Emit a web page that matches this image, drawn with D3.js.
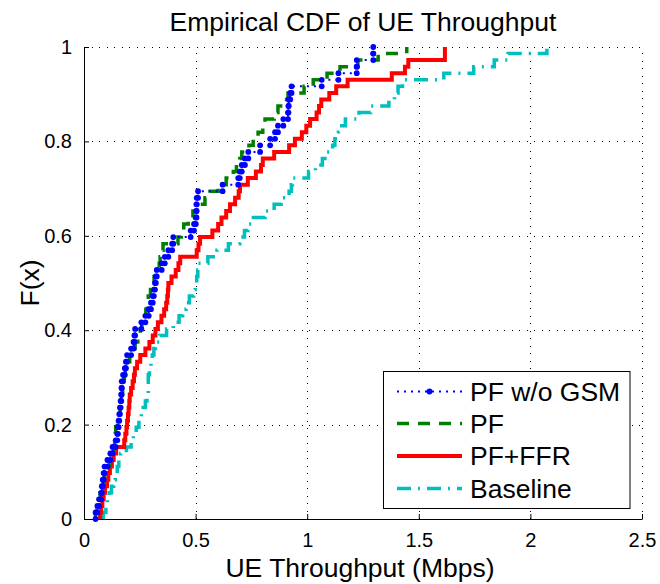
<!DOCTYPE html>
<html>
<head>
<meta charset="utf-8">
<script src="https://cdn.jsdelivr.net/npm/d3@7"></script>
<style>
  html, body { margin: 0; padding: 0; background: #fff; }
  svg { display: block; font-family: "Liberation Sans", Arial, Helvetica, sans-serif; }
</style>
</head>
<body>
<svg id="chart" width="660" height="584"></svg>
<script>
// ---- Data: UE throughput samples (Mbps), 72 UEs per scheme ----
const seriesNames = ["PF w/o GSM", "PF", "PF+FFR", "Baseline"];

const pfWoGsm = [0.052,0.060,0.068,0.077,0.080,0.084,0.088,0.092,0.105,0.118,0.128,0.142,
  0.149,0.152,0.155,0.158,0.161,0.164,0.167,0.168,0.169,0.175,0.183,0.188,
  0.193,0.211,0.222,0.226,0.229,0.257,0.275,0.290,0.300,0.308,0.313,0.318,
  0.322,0.326,0.348,0.362,0.378,0.395,0.400,0.478,0.493,0.501,0.504,0.504,
  0.505,0.511,0.621,0.691,0.698,0.707,0.721,0.736,0.789,0.834,0.856,0.869,
  0.893,0.914,0.916,0.917,0.924,0.930,1.065,1.140,1.222,1.222,1.296,1.296];

const pf = [0.051,0.058,0.064,0.072,0.082,0.087,0.092,0.098,0.113,0.125,0.133,0.137,
  0.140,0.142,0.149,0.156,0.162,0.164,0.168,0.173,0.177,0.181,0.185,0.191,
  0.205,0.218,0.229,0.241,0.252,0.259,0.269,0.277,0.283,0.288,0.298,0.308,
  0.314,0.327,0.337,0.341,0.347,0.354,0.421,0.436,0.447,0.467,0.488,0.513,
  0.542,0.565,0.601,0.637,0.669,0.683,0.698,0.707,0.739,0.758,0.780,0.801,
  0.811,0.852,0.869,0.893,0.914,0.986,1.027,1.089,1.147,1.227,1.318,1.446];

const pfFfr = [0.072,0.077,0.082,0.088,0.094,0.103,0.109,0.116,0.125,0.133,0.144,0.180,
  0.185,0.190,0.193,0.197,0.200,0.203,0.205,0.211,0.218,0.224,0.228,0.238,
  0.252,0.275,0.293,0.308,0.320,0.331,0.347,0.359,0.368,0.373,0.376,0.378,
  0.392,0.411,0.423,0.431,0.505,0.513,0.520,0.575,0.601,0.616,0.637,0.654,
  0.677,0.693,0.699,0.734,0.770,0.793,0.801,0.852,0.919,0.945,0.976,0.996,
  1.013,1.042,1.053,1.063,1.099,1.130,1.181,1.379,1.438,1.453,1.617,1.617];

const baseline = [0.086,0.098,0.105,0.113,0.123,0.133,0.140,0.149,0.156,0.164,0.190,0.211,
  0.221,0.234,0.246,0.257,0.265,0.275,0.282,0.288,0.288,0.288,0.293,0.300,
  0.306,0.313,0.320,0.339,0.370,0.400,0.426,0.442,0.457,0.472,0.491,0.498,
  0.505,0.510,0.513,0.555,0.596,0.647,0.698,0.719,0.734,0.750,0.811,0.852,
  0.883,0.919,0.929,0.934,1.006,1.037,1.068,1.089,1.114,1.124,1.140,1.155,
  1.171,1.232,1.284,1.366,1.391,1.407,1.427,1.612,1.746,1.838,1.900,2.074];

const xTicks = [0, 0.5, 1, 1.5, 2, 2.5];
const yTicks = [0, 0.2, 0.4, 0.6, 0.8, 1];
const xTickLabels = ["0", "0.5", "1", "1.5", "2", "2.5"];
const yTickLabels = ["0", "0.2", "0.4", "0.6", "0.8", "1"];

const titleText = "Empirical CDF of UE Throughput";
const xLabelText = "UE Throughput (Mbps)";
const yLabelText = "F(x)";

// ---- Layout ----
const W = 660, H = 584;
const m = { left: 84, right: 18, top: 47, bottom: 65 };
const svg = d3.select("#chart");
const x = d3.scaleLinear().domain([0, 2.5]).range([m.left, W - m.right]);
const y = d3.scaleLinear().domain([0, 1]).range([H - m.bottom, m.top]);

// grid
const grid = svg.append("g").attr("stroke", "#000").attr("stroke-width", 1)
  .attr("stroke-dasharray", "1,6.5").attr("shape-rendering", "crispEdges");
xTicks.filter(d => d > 0).forEach(d => {
  grid.append("line").attr("x1", Math.round(x(d)) + 0.5).attr("x2", Math.round(x(d)) + 0.5)
    .attr("y1", y(0)).attr("y2", y(1));
});
yTicks.filter(d => d > 0).forEach(d => {
  grid.append("line").attr("y1", Math.round(y(d)) + 0.5).attr("y2", Math.round(y(d)) + 0.5)
    .attr("x1", x(0)).attr("x2", x(2.5));
});

// axes (ticks inward)
const xAxis = d3.axisBottom(x).tickValues(xTicks).tickFormat((d, i) => xTickLabels[i])
  .tickSizeInner(-5).tickSizeOuter(0).tickPadding(14);
const yAxis = d3.axisLeft(y).tickValues(yTicks).tickFormat((d, i) => yTickLabels[i])
  .tickSizeInner(-5).tickSizeOuter(0).tickPadding(12);

const gx = svg.append("g").attr("transform", `translate(0,${y(0)})`).call(xAxis);
const gy = svg.append("g").attr("transform", `translate(${x(0)},0)`).call(yAxis);
[gx, gy].forEach(g => {
  g.selectAll("text").attr("font-size", 20).attr("fill", "#000")
    .attr("font-family", "Liberation Sans, Arial, sans-serif");
  g.selectAll("line").attr("stroke", "#000");
  g.select(".domain").attr("stroke", "#000");
});

// ECDF step paths
function ecdfPoints(samples) {
  const s = samples.slice().sort((a, b) => a - b);
  const n = s.length;
  const pts = [];
  s.forEach((v, i) => {
    pts.push([v, i / n]);
    pts.push([v, (i + 1) / n]);
  });
  return pts;
}
const line = d3.line().x(d => x(d[0])).y(d => y(d[1]));

const styles = [
  { data: pfWoGsm, color: "#0000ff", width: 2, dash: "2,5", marker: true },
  { data: pf, color: "#008000", width: 3.5, dash: "12,9", marker: false },
  { data: pfFfr, color: "#ff0000", width: 4, dash: null, marker: false },
  { data: baseline, color: "#00bfbf", width: 3.5, dash: "14,7,2,7", marker: false }
];

const plot = svg.append("g");
// draw order: baseline, PF+FFR, PF, PF w/o GSM (blue on top)
[3, 2, 1, 0].forEach(i => {
  const st = styles[i];
  const pts = ecdfPoints(st.data);
  plot.append("path").attr("d", line(pts)).attr("fill", "none")
    .attr("stroke", st.color).attr("stroke-width", st.width)
    .attr("stroke-dasharray", st.dash).attr("stroke-linejoin", "miter");
  if (st.marker) {
    plot.append("g").selectAll("circle").data(pts).join("circle")
      .attr("cx", d => x(d[0])).attr("cy", d => y(d[1])).attr("r", 2.9)
      .attr("fill", st.color);
  }
});

// title & labels
const bigFont = 26.5;
svg.append("text").attr("x", (x(0) + x(2.5)) / 2).attr("y", 31).attr("text-anchor", "middle")
  .attr("font-size", bigFont).text(titleText);
svg.append("text").attr("x", 360).attr("y", 577).attr("text-anchor", "middle")
  .attr("font-size", bigFont).text(xLabelText);
svg.append("text").attr("transform", `translate(39,${(y(0) + y(1)) / 2}) rotate(-90)`)
  .attr("text-anchor", "middle").attr("font-size", bigFont).text(yLabelText);

// legend
const lg = svg.append("g");
lg.append("rect").attr("x", 383.5).attr("y", 371.5).attr("width", 246.5).attr("height", 137)
  .attr("fill", "#fff").attr("stroke", "#000").attr("stroke-width", 1);
const rowY = [391.5, 423.5, 456, 488.5];
seriesNames.forEach((name, i) => {
  const st = styles[i];
  lg.append("line").attr("x1", 397).attr("x2", 462).attr("y1", rowY[i]).attr("y2", rowY[i])
    .attr("stroke", st.color).attr("stroke-width", st.width).attr("stroke-dasharray", st.dash);
  if (st.marker) {
    lg.append("circle").attr("cx", 429.5).attr("cy", rowY[i]).attr("r", 2.9).attr("fill", st.color);
  }
  lg.append("text").attr("x", 470).attr("y", rowY[i] + 9).attr("font-size", bigFont).text(name);
});
</script>
</body>
</html>
